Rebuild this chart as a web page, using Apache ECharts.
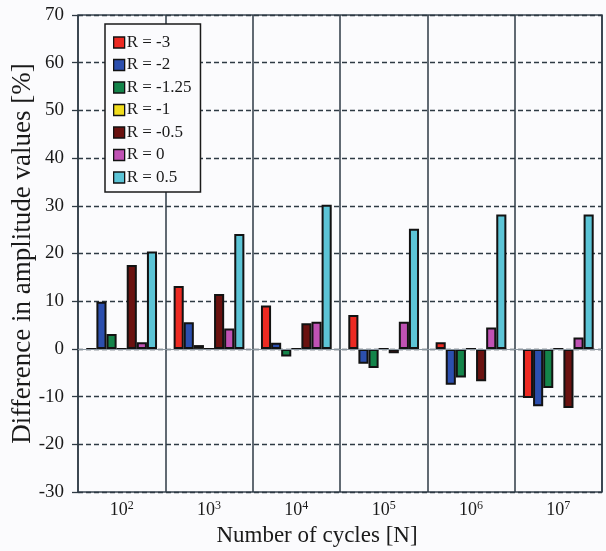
<!DOCTYPE html>
<html>
<head>
<meta charset="utf-8">
<script src="https://cdn.jsdelivr.net/npm/echarts@6/dist/echarts.min.js"></script>
<style>
  html, body { margin: 0; padding: 0; background: #fbfbfd; }
  #chart { width: 606px; height: 551px; }
</style>
</head>
<body>
<div id="chart"></div>
<script>
// Categories (number of cycles, exponent of 10)
const cycleExponents = ['2', '3', '4', '5', '6', '7'];

// Series names and colours
const seriesNames = ['R = -3', 'R = -2', 'R = -1.25', 'R = -1', 'R = -0.5', 'R = 0', 'R = 0.5'];
const seriesColors = ['#ec2a22', '#2c4fae', '#14844a', '#f0dc1c', '#6a1210', '#c052b4', '#5cc4d6'];

// Values [%]
const rMinus3    = [0, 13.2, 9.1, 7.1, 1.4, -10.3];
const rMinus2    = [9.9, 5.6, 1.3, -3.1, -7.5, -12.0];
const rMinus125  = [3.1, 0.8, -1.6, -4.0, -6.0, -8.2];
const rMinus1    = [0, 0, 0, 0, 0, 0];
const rMinus05   = [17.6, 11.5, 5.4, -0.9, -6.8, -12.4];
const rZero      = [1.4, 4.3, 5.7, 5.7, 4.5, 2.4];
const rPlus05    = [20.4, 24.1, 30.2, 25.2, 28.2, 28.2];

const seriesValues = [rMinus3, rMinus2, rMinus125, rMinus1, rMinus05, rZero, rPlus05];

const font = 'Liberation Serif, Times New Roman, serif';

const chart = echarts.init(document.getElementById('chart'));

const series = seriesNames.map((name, i) => {
    const s = {
        name: name,
        type: 'bar',
        data: seriesValues[i],
        barGap: '0%',
        barCategoryGap: '19%',
        itemStyle: {
            color: seriesColors[i],
            borderColor: '#121212',
            borderWidth: 2
        }
    };
    if (i === 0) {
        // Solid reference line at zero
        s.markLine = {
            silent: true,
            symbol: 'none',
            label: { show: false },
            lineStyle: { color: '#8a96a0', type: 'solid', width: 1.2 },
            data: [{ yAxis: 0 }]
        };
    }
    return s;
});

const option = {
    backgroundColor: '#fbfbfd',
    animation: false,
    grid: {
        left: 78,
        right: 4,
        top: 15,
        bottom: 59,
        outerBoundsMode: 'none',
        containLabel: false,
        show: true,
        borderColor: '#3a4650',
        borderWidth: 1.5,
        backgroundColor: 'transparent'
    },
    legend: {
        orient: 'vertical',
        left: 105,
        top: 24,
        padding: [10, 9, 6, 8],
        itemWidth: 11,
        itemHeight: 11,
        itemGap: 5.5,
        borderColor: '#1a1a1a',
        borderWidth: 1.5,
        backgroundColor: '#fbfbfd',
        icon: 'rect',
        itemStyle: { borderColor: '#121212', borderWidth: 1.3 },
        textStyle: { fontFamily: font, fontSize: 17, color: '#1a1a1a', padding: [0, 0, 0, -3] },
        data: seriesNames
    },
    xAxis: {
        type: 'category',
        data: cycleExponents,
        name: 'Number of cycles [N]',
        nameLocation: 'middle',
        nameGap: 32,
        nameMoveOverlap: false,
        nameTextStyle: { fontFamily: font, fontSize: 23, color: '#1a1a1a', padding: [0, 46, 0, 0] },
        axisLine: { show: false },
        axisTick: { show: false },
        axisLabel: {
            margin: 8,
            formatter: v => '{b|10}{s|' + v + '}',
            rich: {
                b: { fontFamily: font, fontSize: 18, color: '#1a1a1a' },
                s: { fontFamily: font, fontSize: 12, color: '#1a1a1a', verticalAlign: 'top', padding: [0, 0, 8, 0] }
            }
        },
        splitLine: { show: true, lineStyle: { color: '#2e3a44', width: 1.5, type: 'solid' } }
    },
    yAxis: {
        type: 'value',
        min: -30,
        max: 70,
        interval: 10,
        name: 'Difference in amplitude values [%]',
        nameLocation: 'middle',
        nameGap: 42,
        nameMoveOverlap: false,
        nameTextStyle: { fontFamily: font, fontSize: 27, color: '#1a1a1a' },
        axisLine: { show: false },
        axisTick: { show: true, inside: false, length: 6, lineStyle: { color: '#2e3a44', width: 1.3 } },
        axisLabel: { fontFamily: font, fontSize: 19, color: '#1a1a1a', margin: 14 },
        splitLine: { show: true, lineStyle: { color: '#2e3a44', width: 1.3, type: [5, 3] } }
    },
    series: series
};

chart.setOption(option);
</script>
</body>
</html>
